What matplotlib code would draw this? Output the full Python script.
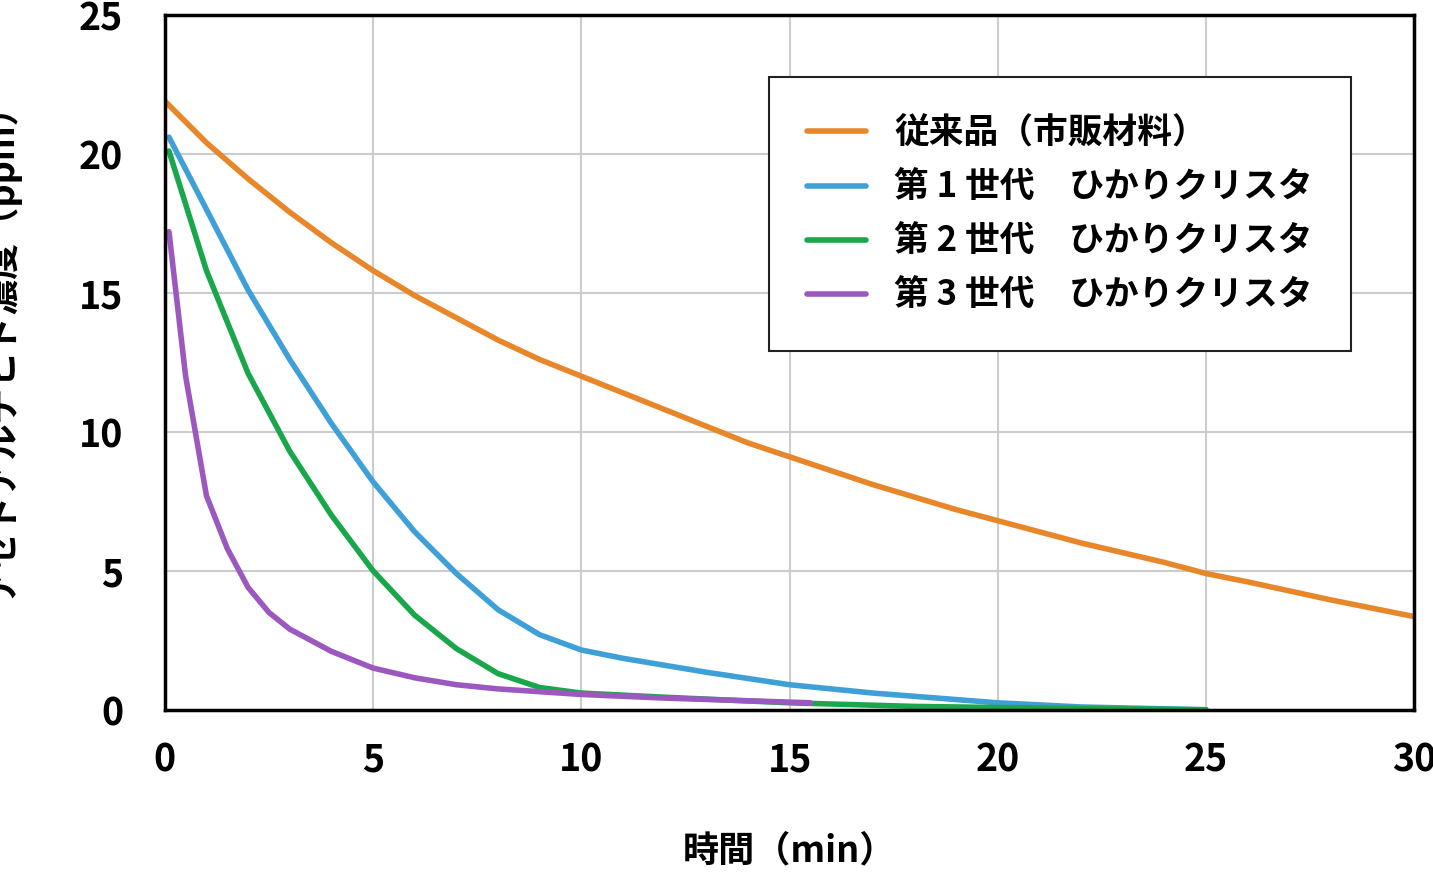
import matplotlib.pyplot as plt

plt.rcParams['font.family'] = 'Noto Sans CJK JP'
plt.rcParams['font.weight'] = 'bold'
plt.rcParams['axes.labelweight'] = 'bold'

# values
t_conv = [0, 1, 2, 3, 4, 5, 6, 7, 8, 9, 10, 11, 12, 13, 14, 15, 16, 17, 18, 19, 20, 22, 24, 25, 26, 28, 30]
c_conv = [21.9, 20.4, 19.1, 17.9, 16.8, 15.8, 14.9, 14.1, 13.3, 12.6, 12.0, 11.4, 10.8, 10.2, 9.6, 9.1, 8.6, 8.1, 7.65, 7.2, 6.8, 6.0, 5.3, 4.9, 4.6, 3.95, 3.35]

t_gen1 = [0.1, 1, 2, 3, 4, 5, 6, 7, 8, 9, 10, 11, 12, 13, 15, 17, 20, 22, 25]
c_gen1 = [20.6, 18.0, 15.1, 12.6, 10.3, 8.2, 6.4, 4.9, 3.6, 2.7, 2.15, 1.85, 1.6, 1.35, 0.9, 0.6, 0.25, 0.1, 0.0]

t_gen2 = [0.1, 1, 2, 3, 4, 5, 6, 7, 8, 9, 10, 12, 15, 18, 20, 25]
c_gen2 = [20.1, 15.8, 12.1, 9.3, 7.0, 5.0, 3.4, 2.2, 1.3, 0.8, 0.6, 0.45, 0.25, 0.12, 0.08, 0.0]

t_gen3 = [0.1, 0.5, 1, 1.5, 2, 2.5, 3, 4, 5, 6, 7, 8, 10, 12, 15.5]
c_gen3 = [17.2, 12.0, 7.7, 5.8, 4.4, 3.5, 2.9, 2.1, 1.5, 1.15, 0.9, 0.75, 0.55, 0.42, 0.25]

labels = ['従来品（市販材料）', '第 1 世代　ひかりクリスタ', '第 2 世代　ひかりクリスタ', '第 3 世代　ひかりクリスタ']
colors = ['#e8862a', '#3fa0d8', '#1aa64a', '#9b59c0']

fig, ax = plt.subplots(figsize=(14.33, 8.73), dpi=100)
fig.subplots_adjust(left=0.115, right=0.987, top=0.983, bottom=0.187)

for (t, c), lab, col in zip([(t_conv, c_conv), (t_gen1, c_gen1), (t_gen2, c_gen2), (t_gen3, c_gen3)], labels, colors):
    ax.plot(t, c, color=col, linewidth=4, label=lab, solid_capstyle='round', solid_joinstyle='round')

ax.set_xlim(0, 30)
ax.set_ylim(0, 25)
ax.set_xticks(range(0, 31, 5))
ax.set_yticks(range(0, 26, 5))
ax.grid(color='#cccccc', linewidth=1.5)
ax.tick_params(labelsize=27, length=0)
ax.tick_params(axis='x', pad=22)
ax.tick_params(axis='y', pad=30)
for s in ax.spines.values():
    s.set_linewidth(2.5)
ax.set_xlabel('時間（min）', fontsize=26, labelpad=38)
ax.set_ylabel('アセトアルデヒド濃度（ppm）', fontsize=26, labelpad=10)
ax.yaxis.set_label_coords(-0.117, 0.53)

leg = ax.legend(loc='upper right', bbox_to_anchor=(0.963, 0.935), fontsize=25, frameon=True,
                fancybox=False, borderpad=1.1, labelspacing=0.55, handlelength=1.7, handletextpad=0.8)
leg.get_frame().set_edgecolor('#222222')
leg.get_frame().set_linewidth(1.5)
leg.get_frame().set_alpha(1)

fig.savefig('out.png')
